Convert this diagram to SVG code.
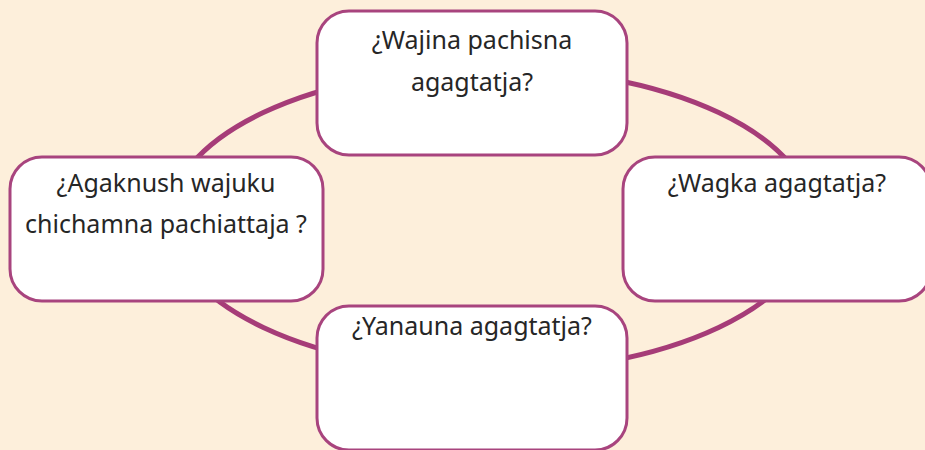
<svg xmlns="http://www.w3.org/2000/svg" width="925" height="450" viewBox="0 0 925 450">
  <style>
    .box { fill: #ffffff; stroke: #a8447e; stroke-width: 3; }
    .lbl { font-family: "Noto Sans", "Open Sans", sans-serif; font-size: 25px; fill: #262626; text-anchor: middle; }
    .ring { fill: none; stroke: #a63c78; stroke-width: 5; }
  </style>
  <rect x="0" y="0" width="925" height="450" fill="#fdefdb"/>
  <g id="connectors">
    <ellipse class="ring" cx="491" cy="220" rx="322" ry="152"/>
  </g>
  <g id="node-top">
    <rect class="box" x="317" y="11" width="310" height="144" rx="32"/>
    <text class="lbl" x="472" y="49">¿Wajina pachisna</text>
    <text class="lbl" x="472" y="91">agagtatja?</text>
  </g>
  <g id="node-left">
    <rect class="box" x="10" y="157" width="313" height="144" rx="32"/>
    <text class="lbl" x="166" y="192">¿Agaknush wajuku</text>
    <text class="lbl" x="166" y="233">chichamna pachiattaja ?</text>
  </g>
  <g id="node-right">
    <rect class="box" x="623" y="157" width="308" height="144" rx="32"/>
    <text class="lbl" x="777" y="192">¿Wagka agagtatja?</text>
  </g>
  <g id="node-bottom">
    <rect class="box" x="317" y="306" width="310" height="144" rx="32"/>
    <text class="lbl" x="472" y="335">¿Yanauna agagtatja?</text>
  </g>
</svg>
